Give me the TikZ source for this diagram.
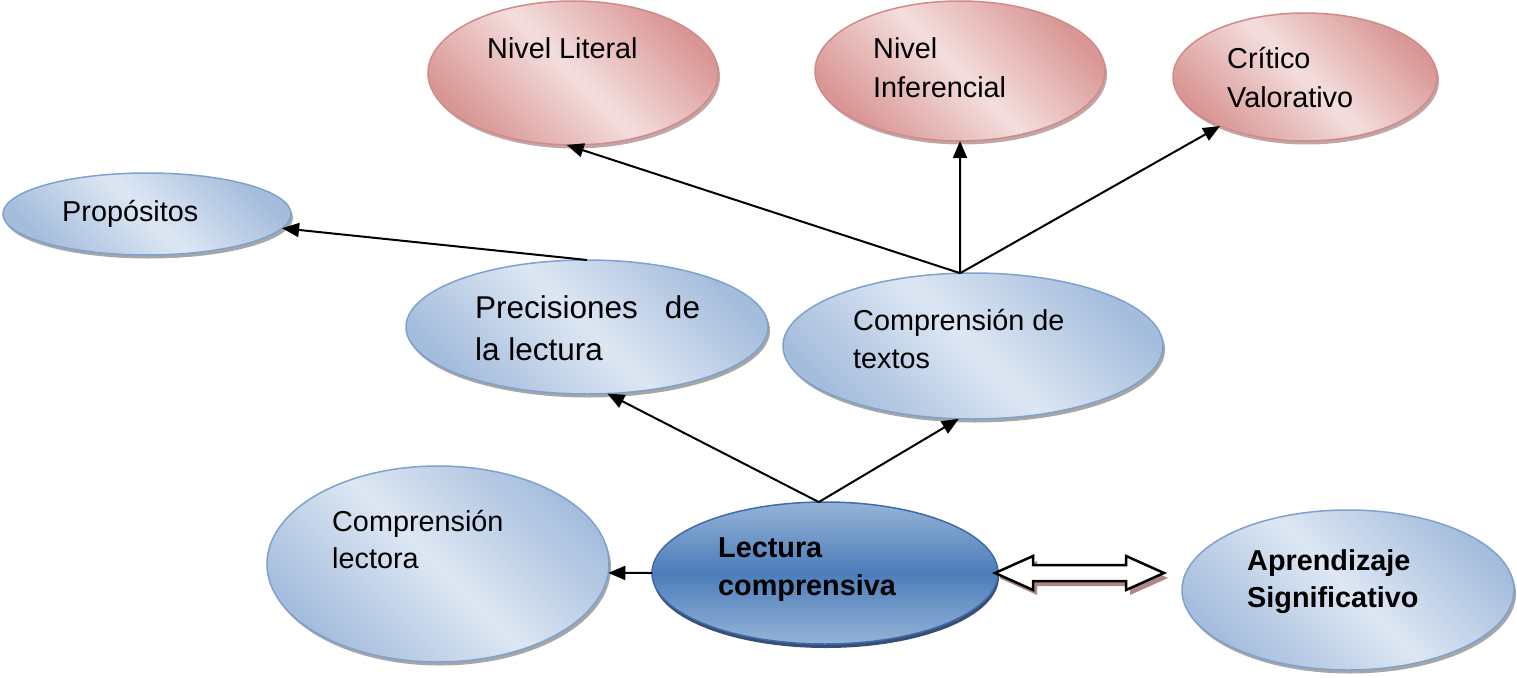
\documentclass[tikz,border=0pt]{standalone}
\usepackage{fontspec}
\setmainfont{Liberation Sans}
\usetikzlibrary{shapes.geometric,shadows,arrows.meta}
\definecolor{bluelt}{RGB}{221,231,243}
\definecolor{bluedk}{RGB}{165,189,221}
\definecolor{bluebd}{RGB}{126,161,206}
\definecolor{pinklt}{RGB}{243,222,221}
\definecolor{pinkdk}{RGB}{217,150,148}
\definecolor{pinkbd}{RGB}{208,138,138}
\definecolor{navylt}{RGB}{149,179,215}
\definecolor{navymd}{RGB}{76,125,186}
\definecolor{navybd}{RGB}{62,108,168}
\definecolor{navysh}{RGB}{35,60,100}
\definecolor{arrsh}{RGB}{175,135,135}
\begin{document}
\begin{tikzpicture}[x=1pt,y=-1pt,
  oval/.style={ellipse, inner sep=0pt, outer sep=0pt, line width=1.5pt},
  blueoval/.style={oval, draw=bluebd, top color=bluedk, bottom color=bluedk, middle color=bluelt, shading angle=-45,
    drop shadow={shadow xshift=2pt, shadow yshift=-3.5pt, fill=black, opacity=0.35}},
  pinkoval/.style={oval, draw=pinkbd, top color=pinkdk, bottom color=pinkdk, middle color=pinklt, shading angle=-45,
    drop shadow={shadow xshift=2pt, shadow yshift=-3.5pt, fill=black!70!red, opacity=0.35}},
  navyoval/.style={oval, draw=navybd, top color=navylt, bottom color=navylt, middle color=navymd,
    drop shadow={shadow xshift=1pt, shadow yshift=-4pt, fill=navysh, opacity=0.9}},
  txt/.style={anchor=base west, inner sep=0pt, font=\fontsize{28.8}{34}\selectfont},
  bigtxt/.style={anchor=base west, inner sep=0pt, font=\fontsize{31.5}{38}\selectfont},
  btxt/.style={anchor=base west, inner sep=0pt, font=\fontsize{28.8}{34}\selectfont\bfseries},
  conn/.style={line width=2pt, -{Triangle[length=17pt,width=14pt]}},
  dblarr/.style={line width=2.5pt, draw=black, fill=white, line join=miter,
    drop shadow={shadow xshift=4pt, shadow yshift=-5pt, fill=arrsh, opacity=1}},
]
\fill[white] (0,0) rectangle (1517,677);
\useasboundingbox (0,0) rectangle (1517,677);

% ellipses
\node[pinkoval, minimum width=290pt, minimum height=144pt] (lit) at (573,73) {};
\node[pinkoval, minimum width=290pt, minimum height=140pt] (inf) at (960,71) {};
\node[pinkoval, minimum width=264pt, minimum height=128pt] (cri) at (1305,77) {};
\node[blueoval, minimum width=288pt, minimum height=82pt] (pro) at (147,214) {};
\node[blueoval, minimum width=362pt, minimum height=134pt] (prec) at (587,327) {};
\node[blueoval, minimum width=380pt, minimum height=146pt] (com) at (973,346) {};
\node[blueoval, minimum width=342pt, minimum height=196pt] (clec) at (438,564) {};
\node[navyoval, minimum width=346pt, minimum height=142pt] (lec) at (825,573) {};
\node[blueoval, minimum width=332pt, minimum height=160pt] (apr) at (1348,590) {};

% connectors
\draw[conn] (lec.west) -- (clec.-3);
\draw[conn] (lec.95) -- (prec.-73);
\draw[conn] (lec.95) -- (com.-101);
\draw[conn] (prec.north) -- (pro.-6);
\draw[conn] (com.100) -- (lit.-95);
\draw[conn] (com.100) -- (inf.south);
\draw[conn] (com.100) -- (cri.-150);

% double arrow
\draw[dblarr] ([xshift=-3pt]lec.east) -- ++(38,-17) -- ++(0,9) -- ++(93,0) -- ++(0,-9)
  -- ++(38,17) -- ++(-38,17) -- ++(0,-9) -- ++(-93,0) -- ++(0,9) -- cycle;

% texts
\node[txt] (litA) at (487,59) {Nivel Literal};
\node[txt] (infA) at (873,59) {Nivel};
\node[txt] (infB) at (873,97) {Inferencial};
\node[txt] (criA) at (1227,68) {Crítico};
\node[txt] (criB) at (1227,107) {Valorativo};
\node[txt] (proA) at (62,221) {Propósitos};
\node[bigtxt] (precA) at (475,318) {Precisiones\hspace{27pt}de};
\node[bigtxt] (precB) at (475,360) {la lectura};
\node[txt] (comA) at (853,330) {Comprensión de};
\node[txt] (comB) at (853,368) {textos};
\node[txt] (clecA) at (332,531) {Comprensión};
\node[txt] (clecB) at (332,568) {lectora};
\node[btxt] (lecA) at (718,557) {Lectura};
\node[btxt] (lecB) at (718,595) {comprensiva};
\node[btxt] (aprA) at (1247,570) {Aprendizaje};
\node[btxt] (aprB) at (1247,607) {Significativo};
\end{tikzpicture}
\end{document}
